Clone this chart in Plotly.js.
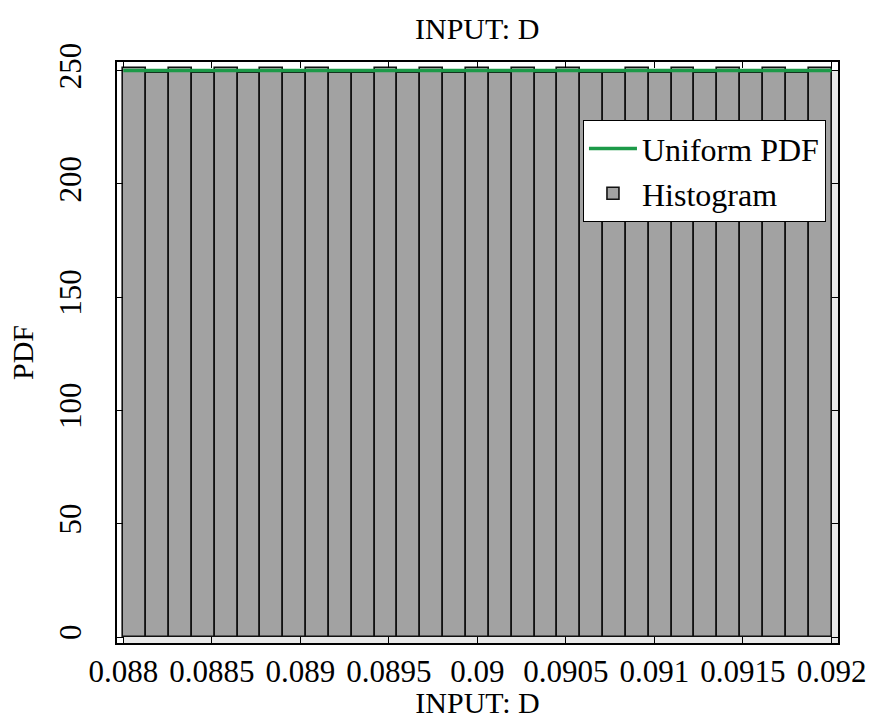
<!DOCTYPE html>
<html>
<head>
<meta charset="utf-8">
<script src="https://cdn.plot.ly/plotly-3.0.1.min.js"></script>
</head>
<body style="margin:0;background:#fff">
<div id="chart" style="width:882px;height:719px"></div>
<script>
// Histogram of INPUT: D, 31 equal bins between binStart and binEnd
const binStart = 0.088;
const binEnd = 0.092;
const pdfValues = [251.3, 249.0, 251.3, 249.0, 251.3, 249.0, 251.3, 249.0, 251.3, 249.0,
                   248.9, 251.3, 249.0, 251.3, 249.0, 251.3, 249.0, 251.3, 249.0, 251.3,
                   249.0, 248.9, 251.3, 249.0, 251.3, 249.0, 251.3, 249.0, 251.3, 249.0, 251.3];
const uniformX = [0.088, 0.092];
const uniformY = [250, 250];
const xTickVals = [0.088, 0.0885, 0.089, 0.0895, 0.09, 0.0905, 0.091, 0.0915, 0.092];
const xTickText = ['0.088', '0.0885', '0.089', '0.0895', '0.09', '0.0905', '0.091', '0.0915', '0.092'];
const yTickVals = [0, 50, 100, 150, 200, 250];
const yTickText = ['0', '50', '100', '150', '200', '250'];
const xRange = [0.0879644, 0.0920367];
const yRange = [-2.65, 253.8];

const nBins = pdfValues.length;
const binWidth = (binEnd - binStart) / nBins;
const binCenters = pdfValues.map((_, i) => binStart + (i + 0.5) * binWidth);

const FAM = 'Liberation Serif';
function mkFont(s) { return {family: FAM, size: s, color: '#000'}; }

const traces = [
  {
    type: 'bar', name: 'Histogram', x: binCenters, y: pdfValues, width: binWidth,
    marker: {color: '#a2a2a2', line: {color: '#111', width: 1.6}},
    hoverinfo: 'skip'
  },
  {
    type: 'scatter', mode: 'lines', name: 'Uniform PDF', x: uniformX, y: uniformY,
    line: {color: '#1c9a48', width: 3.5}, hoverinfo: 'skip'
  }
];

const layout = {
  width: 882, height: 719,
  margin: {l: 117, r: 44, t: 62, b: 76},
  paper_bgcolor: '#fff', plot_bgcolor: '#fff',
  font: mkFont(30),
  bargap: 0,
  showlegend: true,
  title: {text: 'INPUT: D', font: mkFont(30), x: 0.541, xanchor: 'center', y: 0.96, yanchor: 'middle'},
  xaxis: {
    title: {text: 'INPUT: D', font: mkFont(30), standoff: 2},
    range: xRange, tickmode: 'array', tickvals: xTickVals, ticktext: xTickText,
    ticks: 'inside', ticklen: 6, tickcolor: '#000', tickwidth: 1.2,
    showline: true, linecolor: '#000', linewidth: 1.5, mirror: 'ticks',
    showgrid: false, zeroline: false, tickfont: mkFont(31)
  },
  yaxis: {
    title: {text: 'PDF', font: mkFont(30), standoff: 10},
    range: yRange, tickmode: 'array', tickvals: yTickVals, ticktext: yTickText,
    tickangle: -90, ticklabelstandoff: 22,
    ticks: 'inside', ticklen: 6, tickcolor: '#000', tickwidth: 1.2,
    showline: true, linecolor: '#000', linewidth: 1.5, mirror: 'ticks',
    showgrid: false, zeroline: false, tickfont: mkFont(31)
  },
  legend: {
    x: 0.646, y: 0.9, xanchor: 'left', yanchor: 'top',
    bgcolor: '#fff', bordercolor: '#000', borderwidth: 1.2,
    font: mkFont(32), traceorder: 'reversed', tracegroupgap: 0, itemwidth: 48
  },
  shapes: [
    {type: 'rect', layer: 'below', xref: 'x', yref: 'y', x0: binEnd, x1: xRange[1], y0: yRange[0], y1: uniformY[0],
     fillcolor: '#e8e8e8', line: {width: 0}},
    {type: 'rect', layer: 'below', xref: 'x', yref: 'y', x0: binStart, x1: xRange[1], y0: yRange[0], y1: 0,
     fillcolor: '#e8e8e8', line: {width: 0}}
  ]
};

Plotly.newPlot('chart', traces, layout, {displayModeBar: false});
</script>
</body>
</html>
